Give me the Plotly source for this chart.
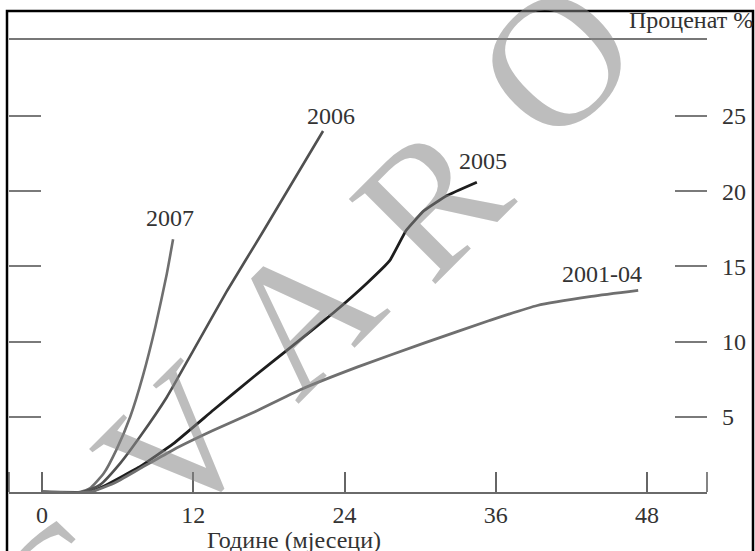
import plotly.graph_objects as go

# ---------------- data ----------------
months_2007 = [0, 3.0, 3.8, 4.9, 5.9, 7.0, 8.0, 9.0, 9.9, 10.4]
pct_2007 = [0, 0, 0.24, 1.24, 2.8, 5.0, 7.7, 11.0, 14.5, 16.8]

months_2006 = [0, 3.2, 4.6, 6.2, 7.8, 9.9, 12.0, 14.7, 17.6, 22.3]
pct_2006 = [0, 0, 0.47, 1.9, 3.7, 6.3, 9.4, 13.4, 17.4, 24.0]

months_2005 = [0, 3.8, 5.1, 7.8, 10.4, 13.6, 16.8, 19.7, 23.1, 25.8, 27.6, 28.9, 30.3, 32.1, 34.5]
pct_2005 = [0, 0, 0.47, 1.7, 3.2, 5.45, 7.66, 9.6, 11.9, 13.9, 15.4, 17.4, 18.7, 19.7, 20.6]

months_2001_04 = [0, 3.8, 5.7, 7.8, 10.4, 13.6, 16.8, 20.5, 25.0, 30.3, 35.5, 39.3, 43.6, 47.3]
pct_2001_04 = [0, 0, 0.58, 1.57, 2.8, 4.1, 5.3, 6.8, 8.3, 9.9, 11.4, 12.4, 13.0, 13.4]

series_names = ["2007", "2006", "2005", "2001-04"]
x_ticks = [0, 12, 24, 36, 48]
y_ticks = [5, 10, 15, 20, 25]
y_tick_text = ["5", "10", "15", "20", "25"]
x_title = "Године (мјесеци)"
y_title = "Проценат %"
watermark = ["V", "A", "R", "O", "C"]

# ---------------- layout helpers ----------------
W, H = 755, 551
def px(x):
    return x / W
def py(y):
    return 1 - y / H

FONT = "Liberation Serif, Times New Roman, serif"
ppm = (647 - 42) / 48.0       # pixels per month
ppu = (492 - 116) / 25.0      # pixels per percent
x_range = [(9 - 42) / ppm, (707 - 42) / ppm]
y_range = [0, (492 - 39) / ppu]

fig = go.Figure()

styles = [("#6f6f6f", 2.6, 0.5), ("#505050", 2.6, 0.5),
          ("#1e1e1e", 2.8, 0.3), ("#6f6f6f", 2.8, 0.5)]
data = [(months_2007, pct_2007), (months_2006, pct_2006),
        (months_2005, pct_2005), (months_2001_04, pct_2001_04)]
for (mx, vy), (col, w, sm), name in zip(data, styles, series_names):
    fig.add_trace(go.Scatter(x=mx, y=vy, mode="lines", name=name,
                             line=dict(color=col, width=w, shape="spline", smoothing=sm),
                             hoverinfo="skip", showlegend=False))

# invisible trace to activate right axis
fig.add_trace(go.Scatter(x=[months_2001_04[0]], y=[pct_2001_04[0]], yaxis="y2",
                         mode="markers", marker=dict(opacity=0), hoverinfo="skip",
                         showlegend=False))

tick_font = dict(family=FONT, size=24, color="#333333")

fig.update_layout(
    width=W, height=H,
    margin=dict(l=0, r=0, t=0, b=0),
    paper_bgcolor="white", plot_bgcolor="white",
    xaxis=dict(domain=[px(9), px(707)], range=x_range, tickvals=x_ticks,
               ticks="inside", ticklen=20, tickwidth=1.6, tickcolor="#666666",
               showline=True, linecolor="#6a6a6a", linewidth=2,
               showgrid=False, zeroline=False, tickfont=tick_font,
               anchor="y", fixedrange=True),
    yaxis=dict(domain=[py(492), py(39)], range=y_range, tickvals=y_ticks,
               ticks="inside", ticklen=32, tickwidth=1.6, tickcolor="#7a7a7a",
               showticklabels=False, showline=False, showgrid=False,
               zeroline=False, anchor="x", fixedrange=True),
    yaxis2=dict(overlaying="y", side="right", anchor="x", range=y_range,
                tickvals=y_ticks, ticktext=y_tick_text,
                ticks="inside", ticklen=32, tickwidth=1.6, tickcolor="#7a7a7a",
                showline=False, showgrid=False, zeroline=False,
                tickfont=tick_font, ticklabelstandoff=14, fixedrange=True),
)

shapes = [
    # top horizontal rule
    dict(type="line", xref="x domain", yref="y domain", x0=0, x1=1, y0=1, y1=1,
         line=dict(color="#777777", width=2)),
    # end ticks of the x axis
    dict(type="line", xref="x domain", yref="y domain", x0=0, x1=0, y0=0,
         y1=20 / (492 - 39), line=dict(color="#666666", width=1.6)),
    dict(type="line", xref="x domain", yref="y domain", x0=1, x1=1, y0=0,
         y1=20 / (492 - 39), line=dict(color="#666666", width=1.6)),
    # frame
    dict(type="rect", xref="paper", yref="paper", x0=px(7), x1=px(753),
         y0=-0.1, y1=py(11), line=dict(color="black", width=2.5)),
]
fig.update_layout(shapes=shapes)

ann = []
# watermark letters (rotated)
wm_pos = [(176, 444), (300, 313), (430, 200), (555, 60), (60, 595)]
for letter, (wx, wy) in zip(watermark, wm_pos):
    ann.append(dict(text=letter, xref="paper", yref="paper", x=px(wx), y=py(wy),
                    xanchor="center", yanchor="middle", showarrow=False,
                    textangle=-45,
                    font=dict(family=FONT, size=185, color="rgba(135,135,135,0.55)")))

label_font = dict(family=FONT, size=24, color="#333333")
label_pos = [(10.15, 18.25), (22.89, 24.98), (34.99, 22.0), (44.43, 14.49)]
for name, (lx, ly) in zip(series_names, label_pos):
    ann.append(dict(text=name, x=lx, y=ly, xref="x", yref="y", showarrow=False,
                    xanchor="center", yanchor="middle", font=label_font))

ann.append(dict(text=y_title, xref="paper", yref="paper", x=px(627), y=py(19.5),
                xanchor="left", yanchor="middle", showarrow=False, font=label_font))
ann.append(dict(text=x_title, xref="paper", yref="paper", x=px(294), y=py(540),
                xanchor="center", yanchor="middle", showarrow=False, font=label_font))
fig.update_layout(annotations=ann)

fig.write_html("out.html", config={"displayModeBar": False},
               post_script="document.body.style.margin='0';document.body.style.overflow='hidden';")
